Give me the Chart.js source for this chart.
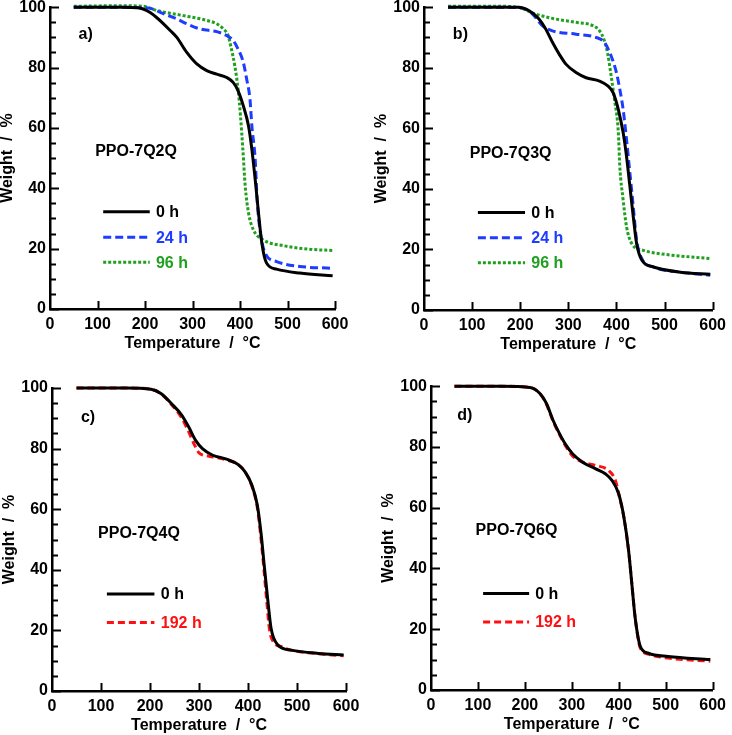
<!DOCTYPE html>
<html>
<head>
<meta charset="utf-8">
<script src="https://cdn.jsdelivr.net/npm/chart.js@4"></script>
<style>
  body { margin: 0; background: #fff; width: 732px; height: 735px; position: relative; overflow: hidden; }
  canvas { position: absolute; }
</style>
</head>
<body>
<canvas id="pa" width="366" height="379" style="left:0;top:-12px"></canvas>
<canvas id="pb" width="366" height="379" style="left:366px;top:-12px"></canvas>
<canvas id="pc" width="366" height="368" style="left:0;top:367px"></canvas>
<canvas id="pd" width="366" height="368" style="left:366px;top:367px"></canvas>
<script>
// x ticks / y ticks
const tempTicks = [0, 100, 200, 300, 400, 500, 600];
const weightTicks = [0, 20, 40, 60, 80, 100];

// a) PPO-7Q2Q
const aT0 = [50, 150, 185, 196, 210, 225, 239, 253, 267, 288, 309, 330, 351, 372, 386, 396, 407, 418, 425, 432, 439, 446, 456, 477, 526, 595];
const aW0 = [100, 100, 99.8, 99.4, 98.3, 96.5, 94.5, 92.3, 90, 85, 81.2, 79, 77.8, 76.7, 75, 72.3, 67.3, 60.6, 52.9, 42.9, 31.8, 21.8, 15.2, 13.2, 11.9, 11.0];
const aT24 = [50, 150, 200, 210, 232, 267, 288, 316, 351, 372, 386, 396, 407, 414, 421, 425, 432, 436, 442, 453, 477, 526, 595];
const aW24 = [100, 100, 99.8, 99.7, 98.3, 96.1, 94.5, 92.8, 91.9, 90.6, 88.9, 86.1, 81.7, 76.2, 69.5, 60.6, 49.6, 36.3, 26.3, 18.5, 15.7, 14.1, 13.5];
const aT96 = [50, 150, 196, 225, 281, 323, 351, 365, 375, 382, 389, 396, 401, 406, 411, 418, 428, 449, 491, 547, 595];
const aW96 = [100.3, 100.5, 100.3, 98.9, 97.2, 95.9, 94.5, 92.8, 90.6, 86.1, 80.6, 72.8, 64, 52.9, 40.7, 31.8, 26.3, 22.9, 21, 19.8, 19.4];

// b) PPO-7Q3Q
const bT0 = [50, 150, 196, 218, 239, 253, 267, 281, 295, 316, 337, 365, 382, 393, 404, 414, 421, 428, 435, 442, 453, 477, 533, 595];
const bW0 = [100, 100, 100, 98.9, 96.1, 92.8, 88.4, 84.5, 81.2, 78.4, 76.7, 75.6, 74, 71.8, 66.2, 58.5, 50.7, 40.8, 30.8, 21.9, 16.4, 14.2, 12.5, 11.8];
const bT24 = [50, 150, 204, 225, 246, 267, 316, 358, 375, 389, 400, 407, 414, 421, 428, 435, 442, 453, 477, 533, 595];
const bW24 = [100, 100, 99.7, 97.8, 93.9, 92.2, 91.1, 90, 88.4, 83.9, 78.4, 72.9, 66.2, 56.3, 45.2, 34.1, 23, 16.9, 14.2, 12.5, 11.5];
const bT96 = [50, 150, 196, 225, 267, 316, 351, 365, 375, 382, 389, 396, 404, 407, 414, 421, 432, 456, 505, 595];
const bW96 = [100.3, 100.3, 100, 98.1, 96.3, 95, 93.9, 92.2, 88.9, 84.5, 77.3, 69.5, 58.5, 47.4, 36.3, 27.5, 21.9, 19.7, 18.3, 17];

// c) PPO-7Q4Q
const cT0 = [50, 150, 202, 223, 244, 265, 279, 293, 307, 328, 356, 380, 394, 408, 419, 427, 433, 440, 447, 461, 488, 544, 595];
const cW0 = [100, 100, 99.6, 98.1, 94.8, 91, 87.1, 82.7, 80, 77.8, 76.5, 74.7, 72.3, 67.9, 61.3, 51.4, 41.5, 30.5, 20.7, 15.2, 13.5, 12.4, 11.9];
const cT192 = [50, 150, 202, 223, 244, 265, 279, 290, 300, 321, 356, 380, 394, 408, 419, 426, 432, 438, 444, 452, 470, 488, 544, 595];
const cW192 = [100, 100, 99.6, 98, 94.5, 90, 85.5, 81.5, 78.6, 77.5, 76.3, 74.7, 72.3, 67.5, 60.5, 51, 41, 30, 20, 16.2, 14.5, 13.5, 12.3, 11.6];

// d) PPO-7Q6Q
const dT0 = [50, 150, 211, 232, 246, 260, 274, 288, 302, 323, 351, 372, 386, 400, 411, 421, 428, 435, 446, 463, 505, 595];
const dW0 = [100, 100, 99.6, 97.6, 94.3, 88.8, 84.3, 80.5, 77.7, 75, 72.8, 71.1, 68.9, 64.5, 56.8, 45.8, 34.7, 23.7, 14.3, 12.1, 11, 10];
const dT192 = [50, 150, 211, 232, 246, 260, 274, 288, 302, 323, 351, 379, 393, 400, 411, 421, 428, 435, 446, 463, 505, 595];
const dW192 = [100, 100, 99.6, 97.6, 94, 88.5, 84, 80, 77, 75, 73.9, 72.2, 68.9, 64.5, 56.8, 45.8, 34.7, 23.7, 13.8, 11.8, 10.5, 9.5];

const FAMILY = '"Liberation Sans", Arial, sans-serif';
const FONT = 'bold 16px ' + FAMILY;

const zip = (t, w) => t.map((v, i) => ({ x: v, y: w[i] }));

const black = { borderColor: '#000000', borderWidth: 3 };
const blue = { borderColor: '#1e3cff', borderWidth: 3, borderDash: [8, 4] };
const green = { borderColor: '#1fa01f', borderWidth: 3, borderDash: [3, 2] };
const red = { borderColor: '#ff1010', borderWidth: 3, borderDash: [7, 4] };

// inward ticks, panel texts and legend
const decor = {
    id: 'decor',
    afterDraw(chart, args, o) {
        const { ctx, chartArea: ca, scales: { x, y } } = chart;
        ctx.save();
        ctx.setLineDash([]);
        ctx.globalAlpha = 1;
        ctx.strokeStyle = '#000000';
        ctx.lineWidth = 2;
        for (let v = 0; v <= 100; v += 5) {
            const py = Math.round(y.getPixelForValue(v)) + 0.5;
            const len = v % 20 === 0 ? 9 : 6;
            ctx.beginPath(); ctx.moveTo(ca.left, py); ctx.lineTo(ca.left + len, py); ctx.stroke();
        }
        for (let v = 100; v <= 600; v += 100) {
            const px = Math.round(x.getPixelForValue(v)) + 0.5;
            ctx.beginPath(); ctx.moveTo(px, ca.bottom); ctx.lineTo(px, ca.bottom - 8); ctx.stroke();
        }
        ctx.font = FONT;
        ctx.fillStyle = '#000';
        ctx.textBaseline = 'middle';
        ctx.textAlign = 'left';
        ctx.fillText(o.tag, x.getPixelForValue(o.tagAt[0]), y.getPixelForValue(o.tagAt[1]));
        ctx.fillText(o.name, x.getPixelForValue(o.nameAt[0]), y.getPixelForValue(o.nameAt[1]));
        chart.data.datasets.forEach((ds, i) => {
            const py = y.getPixelForValue(o.legendY[i]);
            ctx.strokeStyle = ds.borderColor;
            ctx.lineWidth = ds.borderWidth;
            ctx.setLineDash(ds.borderDash || []);
            ctx.beginPath();
            ctx.moveTo(x.getPixelForValue(o.legendX[0]), py);
            ctx.lineTo(x.getPixelForValue(o.legendX[1]), py);
            ctx.stroke();
            ctx.setLineDash([]);
            ctx.fillStyle = ds.borderColor;
            ctx.fillText(ds.label, x.getPixelForValue(o.legendX[2]), py + 1);
        });
        ctx.restore();
    }
};

function makePanel(id, datasets, area, deco) {
    const ctx = document.getElementById(id).getContext('2d');
    const pad = { left: 0, top: 0, right: 0, bottom: 0 };
    const chart = new Chart(ctx, {
        type: 'line',
        data: {
            datasets: datasets.map(d => Object.assign({
                pointRadius: 0,
                fill: false,
                cubicInterpolationMode: 'monotone',
                clip: 4
            }, d))
        },
        options: {
            responsive: false,
            animation: false,
            events: [],
            layout: { padding: pad },
            plugins: { legend: { display: false }, tooltip: { enabled: false }, decor: deco },
            scales: {
                x: {
                    type: 'linear', min: 0, max: 600,
                    afterBuildTicks: s => { s.ticks = tempTicks.map(v => ({ value: v })); },
                    afterFit: s => { s.height = 44; },
                    grid: { display: true, drawOnChartArea: false, drawTicks: false },
                    border: { display: true, color: '#000', width: 2.5 },
                    ticks: { color: '#000', padding: 6, maxRotation: 0, font: { family: FAMILY, size: 16, weight: 'bold' } },
                    title: { display: true, text: 'Temperature  /  °C', color: '#000', padding: 0, font: { family: FAMILY, size: 16, weight: 'bold' } }
                },
                y: {
                    min: 0, max: 100,
                    afterBuildTicks: s => { s.ticks = weightTicks.map(v => ({ value: v })); },
                    afterFit: s => { s.width = 52; },
                    grid: { display: true, drawOnChartArea: false, drawTicks: false },
                    border: { display: true, color: '#000', width: 2.5 },
                    ticks: { color: '#000', padding: 4, font: { family: FAMILY, size: 16, weight: 'bold' } },
                    title: { display: true, text: 'Weight  /  %', color: '#000', padding: 0, font: { family: FAMILY, size: 16, weight: 'bold' } }
                }
            }
        },
        plugins: [decor]
    });
    // nudge padding so the plot area sits where the reference has it
    for (let k = 0; k < 3; k++) {
        const ca = chart.chartArea;
        pad.left += area[0] - ca.left;
        pad.top += area[1] - ca.top;
        pad.right += ca.right - area[2];
        pad.bottom += ca.bottom - area[3];
        chart.options.layout.padding = Object.assign({}, pad);
        chart.update('none');
    }
    return chart;
}

makePanel('pa', [
    Object.assign({ label: '0 h', data: zip(aT0, aW0) }, black),
    Object.assign({ label: '24 h', data: zip(aT24, aW24) }, blue),
    Object.assign({ label: '96 h', data: zip(aT96, aW96) }, green)
], [50, 20, 335, 321], { tag: 'a)', tagAt: [60, 90.8], name: 'PPO-7Q2Q', nameAt: [95, 52.3], legendX: [112, 210, 223], legendY: [32.2, 23.8, 15.5] });

makePanel('pb', [
    Object.assign({ label: '0 h', data: zip(bT0, bW0) }, black),
    Object.assign({ label: '24 h', data: zip(bT24, bW24) }, blue),
    Object.assign({ label: '96 h', data: zip(bT96, bW96) }, green)
], [58, 20, 343, 322], { tag: 'b)', tagAt: [60, 90.8], name: 'PPO-7Q3Q', nameAt: [95, 51.8], legendX: [112, 210, 223], legendY: [32.2, 23.9, 15.6] });

makePanel('pc', [
    Object.assign({ label: '0 h', data: zip(cT0, cW0) }, black),
    Object.assign({ label: '192 h', data: zip(cT192, cW192) }, red)
], [52, 21, 340, 324], { tag: 'c)', tagAt: [59, 90.2], name: 'PPO-7Q4Q', nameAt: [94, 52], legendX: [112, 209, 222], legendY: [32, 22.6] });

makePanel('pd', [
    Object.assign({ label: '0 h', data: zip(dT0, dW0) }, black),
    Object.assign({ label: '192 h', data: zip(dT192, dW192) }, red)
], [65, 20, 350, 323], { tag: 'd)', tagAt: [56, 90.4], name: 'PPO-7Q6Q', nameAt: [95, 52.4], legendX: [111, 209, 222], legendY: [31.8, 22.4] });
</script>
</body>
</html>
